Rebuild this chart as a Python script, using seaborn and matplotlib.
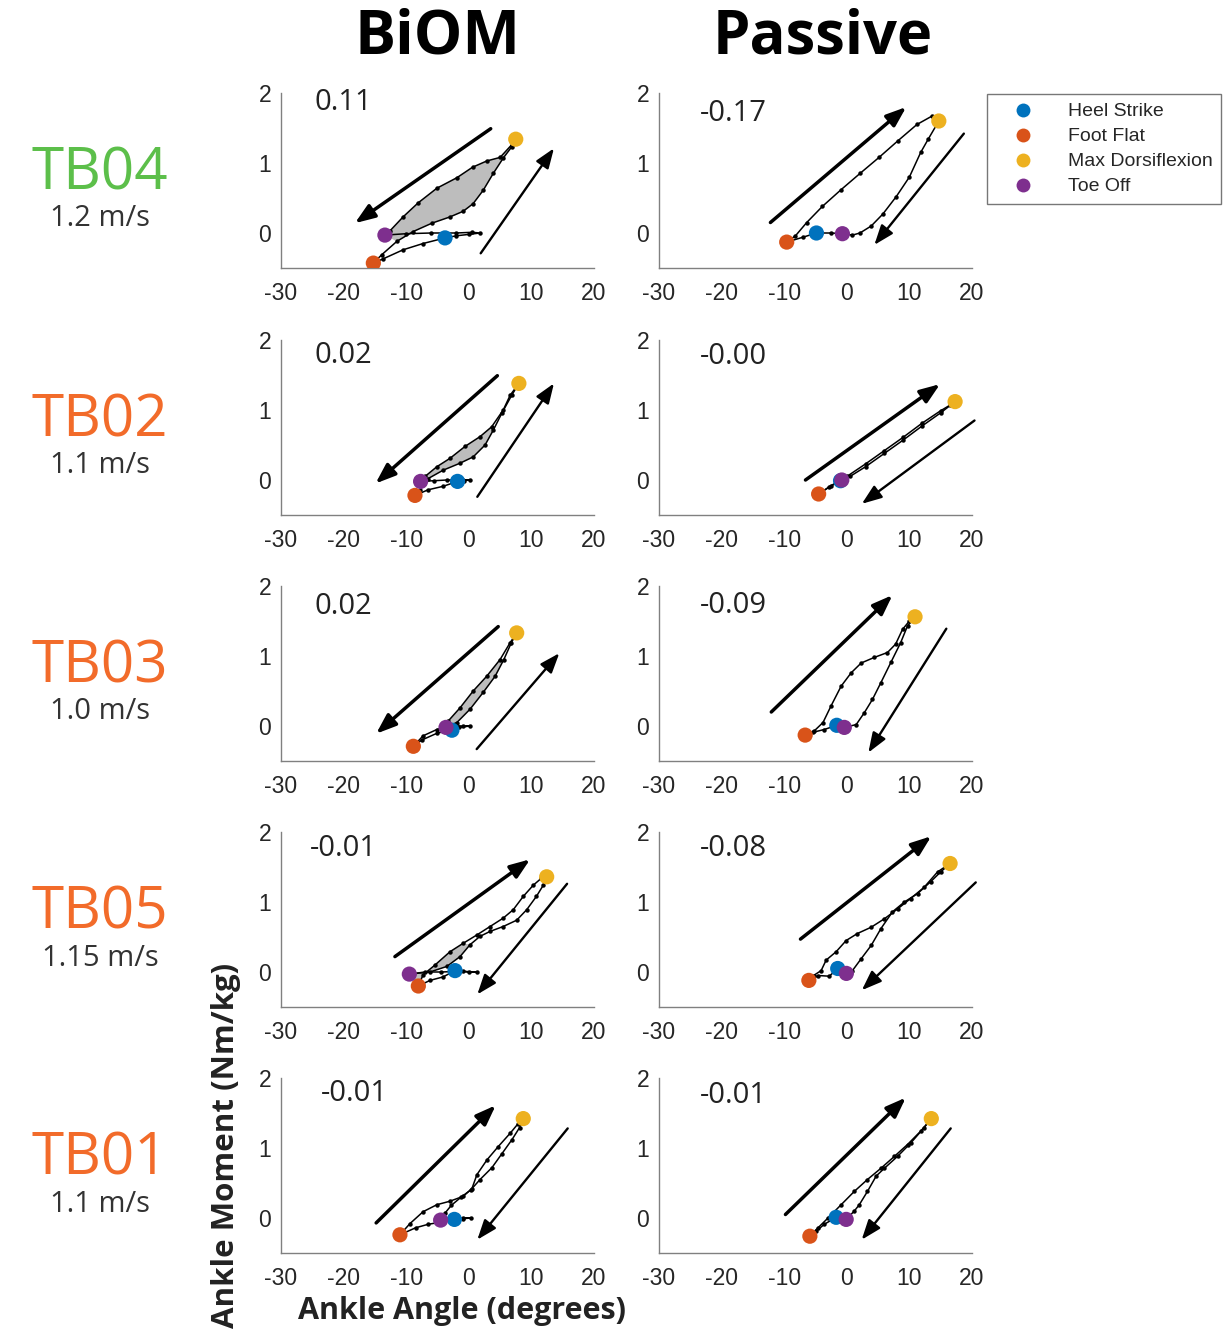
import matplotlib
matplotlib.use("Agg")
import matplotlib.pyplot as plt
from matplotlib.lines import Line2D
import seaborn as sns

# ---- data ----
SUBJECTS = ["TB04", "TB02", "TB03", "TB05", "TB01"]
SPEEDS = ["1.2 m/s", "1.1 m/s", "1.0 m/s", "1.15 m/s", "1.1 m/s"]
SUBJECT_COLORS = ["#5cbf4a", "#f26b2a", "#f26b2a", "#f26b2a", "#f26b2a"]
CONDITIONS = ["BiOM", "Passive"]
X_TICKS = [-30, -20, -10, 0, 10, 20]
Y_TICKS = [0, 1, 2]

EVENTS = ["Heel Strike", "Foot Flat", "Max Dorsiflexion", "Toe Off"]
EVENT_COLORS = {"Heel Strike": "#0072BD", "Foot Flat": "#D95319",
                "Max Dorsiflexion": "#EDB120", "Toe Off": "#7E2F8E"}

BIOM_WORK = ["0.11", "0.02", "0.02", "-0.01", "-0.01"]
PASSIVE_WORK = ["-0.17", "-0.00", "-0.09", "-0.08", "-0.01"]
BIOM_TEXT_POS = [(-24.6, 1.86), (-24.6, 1.78), (-24.6, 1.70), (-25.4, 1.77), (-23.6, 1.78)]
PASSIVE_TEXT_POS = [(-23.5, 1.70), (-23.5, 1.77), (-23.5, 1.72), (-23.5, 1.76), (-23.5, 1.75)]

# gait events (angle deg, moment Nm/kg)
BIOM_HEEL_STRIKE = [(-3.8, -0.07), (-1.8, -0.02), (-2.7, -0.06), (-2.2, 0.02), (-2.3, -0.02)]
BIOM_FOOT_FLAT = [(-15.25, -0.43), (-8.6, -0.22), (-8.86, -0.29), (-8.06, -0.2), (-11.0, -0.24)]
BIOM_MAX_DF = [(7.5, 1.34), (8.0, 1.38), (7.65, 1.33), (12.44, 1.36), (8.7, 1.42)]
BIOM_TOE_OFF = [(-13.4, -0.03), (-7.7, -0.02), (-3.64, -0.02), (-9.5, -0.03), (-4.5, -0.03)]

PASSIVE_HEEL_STRIKE = [(-4.85, 0.0), (-1.0, -0.01), (-1.6, 0.01), (-1.45, 0.05), (-1.7, 0.01)]
PASSIVE_FOOT_FLAT = [(-9.6, -0.13), (-4.5, -0.2), (-6.65, -0.13), (-6.06, -0.12), (-5.9, -0.26)]
PASSIVE_MAX_DF = [(14.7, 1.6), (17.3, 1.12), (10.9, 1.56), (16.5, 1.55), (13.5, 1.42)]
PASSIVE_TOE_OFF = [(-0.7, -0.01), (-0.8, 0.0), (-0.4, -0.02), (-0.07, -0.02), (-0.1, -0.02)]

# foot flat -> max dorsiflexion
BIOM_LOAD = [
    [(-13.9, -0.31), (-11.5, -0.12), (-8.9, 0.02), (-5.9, 0.14), (-3.0, 0.23), (-0.9, 0.31),
     (0.7, 0.42), (2.3, 0.61), (3.9, 0.85), (5.5, 1.07), (6.85, 1.23)],
    [(-7.8, -0.14), (-6.5, 0.02), (-4.1, 0.14), (-1.4, 0.24), (0.7, 0.33), (2.6, 0.50),
     (3.9, 0.71), (5.25, 0.95), (6.85, 1.21)],
    [(-7.3, -0.14), (-5.1, -0.05), (-3.0, 0.01), (-1.9, 0.05), (0.2, 0.24), (2.3, 0.48),
     (4.2, 0.71), (5.6, 0.95), (6.8, 1.19)],
    [(-7.3, -0.04), (-5.4, 0.1), (-3.0, 0.29), (-0.9, 0.41), (1.3, 0.53), (3.4, 0.65),
     (5.5, 0.77), (7.1, 0.89), (8.7, 1.08), (10.3, 1.24), (11.6, 1.34)],
    [(-9.4, -0.08), (-7.3, 0.09), (-5.1, 0.19), (-3.0, 0.24), (-0.9, 0.31), (0.5, 0.42),
     (1.3, 0.62), (2.9, 0.83), (4.7, 1.02), (6.6, 1.21), (7.9, 1.35)],
]
# max dorsiflexion -> toe off
BIOM_UNLOAD = [
    [(6.85, 1.26), (5.0, 1.08), (2.9, 1.03), (0.6, 0.94), (-1.9, 0.79), (-5.1, 0.64),
     (-8.1, 0.43), (-10.5, 0.23), (-12.6, 0.03)],
    [(6.6, 1.21), (5.5, 1.0), (3.65, 0.76), (1.8, 0.62), (-0.6, 0.48), (-3.0, 0.31),
     (-5.1, 0.19), (-7.0, 0.05)],
    [(6.6, 1.19), (5.0, 0.95), (2.85, 0.71), (0.7, 0.50), (-1.4, 0.26), (-3.3, 0.07)],
    [(11.9, 1.24), (10.8, 1.08), (9.25, 0.89), (7.65, 0.74), (5.5, 0.65), (3.4, 0.58),
     (1.8, 0.51), (0.2, 0.39), (-1.4, 0.22), (-3.5, 0.08), (-6.2, 0.0)],
    [(8.1, 1.29), (6.9, 1.12), (5.3, 0.92), (3.7, 0.72), (1.8, 0.55), (0.3, 0.40),
     (-1.2, 0.30), (-2.8, 0.18), (-3.8, 0.07)],
]
# toe off -> heel strike (swing)
BIOM_SWING = [
    [(-10.0, -0.01), (-6.0, 0.0), (-2.0, 0.0), (0.5, 0.01), (1.8, 0.0), (0.0, -0.02), (-2.0, -0.04)],
    [(-5.5, -0.01), (-3.5, 0.0), (-1.0, 0.0), (0.2, 0.0), (-0.8, -0.01)],
    [(-2.5, 0.0), (-1.0, 0.0), (0.2, 0.0), (-1.5, -0.02)],
    [(-7.0, 0.0), (-4.5, 0.0), (-1.0, 0.01), (1.3, 0.0), (0.0, 0.0)],
    [(-3.4, -0.01), (-1.0, 0.0), (0.4, 0.0), (-1.0, -0.01)],
]
# heel strike -> foot flat
BIOM_HEEL = [
    [(-7.3, -0.15), (-10.5, -0.24), (-13.7, -0.37)],
    [(-4.1, -0.09), (-6.5, -0.14)],
    [(-5.0, -0.1), (-7.5, -0.2)],
    [(-4.1, -0.07), (-6.2, -0.12)],
    [(-4.5, -0.06), (-6.5, -0.09), (-8.5, -0.14)],
]
BIOM_FILL_MAX_ANGLE = [20.0, 4.0, 6.0, 0.5, None]

PASSIVE_LOAD = [
    [(-8.2, -0.04), (-6.4, 0.15), (-3.9, 0.38), (-0.9, 0.62), (2.1, 0.85), (5.15, 1.08),
     (8.2, 1.32), (11.2, 1.55), (13.6, 1.67)],
    [(-2.5, -0.08), (0.0, 0.05), (3.0, 0.23), (6.0, 0.42), (9.0, 0.61), (12.0, 0.81),
     (15.0, 0.99), (16.5, 1.07)],
    [(-5.2, -0.07), (-3.8, 0.05), (-2.5, 0.29), (-0.9, 0.57), (0.7, 0.76), (2.3, 0.90),
     (4.4, 0.98), (6.5, 1.05), (7.8, 1.17), (8.9, 1.38), (10.0, 1.50)],
    [(-5.3, -0.05), (-4.1, 0.02), (-3.3, 0.17), (-1.7, 0.29), (-0.1, 0.45), (1.7, 0.55),
     (3.9, 0.64), (6.0, 0.76), (8.1, 0.90), (10.2, 1.05), (12.35, 1.21), (14.5, 1.43)],
    [(-4.6, -0.14), (-3.0, 0.0), (-0.9, 0.19), (1.2, 0.38), (3.3, 0.55), (5.45, 0.71),
     (7.6, 0.88), (9.7, 1.05), (11.8, 1.24)],
]
PASSIVE_UNLOAD = [
    [(13.0, 1.34), (11.8, 1.15), (10.0, 0.80), (7.9, 0.52), (5.75, 0.27), (3.9, 0.10),
     (2.1, 0.0), (0.9, -0.03)],
    [(15.0, 0.96), (12.0, 0.77), (9.0, 0.57), (6.0, 0.38), (3.0, 0.19), (0.5, 0.05)],
    [(9.7, 1.43), (8.6, 1.19), (7.05, 0.91), (5.45, 0.62), (4.1, 0.38), (2.8, 0.19), (1.5, 0.02)],
    [(15.0, 1.43), (13.4, 1.29), (11.3, 1.12), (9.2, 1.0), (7.3, 0.86), (5.45, 0.62),
     (3.9, 0.38), (2.3, 0.19), (0.9, 0.02)],
    [(12.35, 1.29), (10.2, 1.07), (8.1, 0.88), (6.0, 0.71), (4.7, 0.60), (3.3, 0.38),
     (2.0, 0.19), (1.2, 0.1)],
]
PASSIVE_SWING = [[(-2.5, 0.0)], [], [(-1.0, 0.0)], [(-0.8, 0.02)], [(-0.9, 0.0)]]
PASSIVE_HEEL = [
    [(-7.0, -0.06)],
    [(-2.8, -0.1)],
    [(-3.6, -0.05), (-5.4, -0.09)],
    [(-2.8, -0.06), (-4.6, -0.05)],
    [(-3.6, -0.09), (-4.9, -0.19)],
]

# direction arrows: (start, end); first one thick, second one thin
BIOM_ARROWS = [
    [((3.5, 1.49), (-18.2, 0.14)), ((1.9, -0.29), (13.6, 1.21))],
    [((4.56, 1.49), (-14.9, -0.05)), ((1.36, -0.24), (13.6, 1.38))],
    [((4.7, 1.42), (-14.8, -0.11)), ((1.26, -0.33), (14.46, 1.04))],
    [((-11.8, 0.22), (9.8, 1.61)), ((15.7, 1.26), (1.36, -0.32))],
    [((-14.8, -0.07), (4.3, 1.61)), ((15.8, 1.28), (1.36, -0.31))],
]
PASSIVE_ARROWS = [
    [((-12.2, 0.15), (9.5, 1.8)), ((18.7, 1.42), (4.4, -0.17))],
    [((-6.6, 0.0), (14.9, 1.37)), ((20.4, 0.85), (2.4, -0.34))],
    [((-12.06, 0.2), (7.3, 1.87)), ((15.9, 1.39), (3.44, -0.38))],
    [((-7.4, 0.47), (13.5, 1.94)), ((20.6, 1.28), (2.4, -0.26))],
    [((-9.8, 0.05), (9.43, 1.72)), ((16.6, 1.28), (2.38, -0.31))],
]

DATA = {
    "BiOM": dict(hs=BIOM_HEEL_STRIKE, ff=BIOM_FOOT_FLAT, md=BIOM_MAX_DF, to=BIOM_TOE_OFF,
                 load=BIOM_LOAD, unload=BIOM_UNLOAD, swing=BIOM_SWING, heel=BIOM_HEEL,
                 arrows=BIOM_ARROWS, work=BIOM_WORK, text=BIOM_TEXT_POS),
    "Passive": dict(hs=PASSIVE_HEEL_STRIKE, ff=PASSIVE_FOOT_FLAT, md=PASSIVE_MAX_DF,
                    to=PASSIVE_TOE_OFF, load=PASSIVE_LOAD, unload=PASSIVE_UNLOAD,
                    swing=PASSIVE_SWING, heel=PASSIVE_HEEL, arrows=PASSIVE_ARROWS,
                    work=PASSIVE_WORK, text=PASSIVE_TEXT_POS),
}

# ---- layout (pixels) ----
W, H = 1225, 1331
ROW_TOP = [93, 340, 586, 832, 1078]
COL_LEFT = {"BiOM": 281, "Passive": 659}
AX_W, AX_H = 313, 175

sns.set_style("white")
plt.rcParams["font.family"] = ["Liberation Sans", "DejaVu Sans"]
plt.rcParams["axes.unicode_minus"] = False
TITLE_FONT = ["Open Sans", "DejaVu Sans"]

fig = plt.figure(figsize=(W / 100, H / 100), dpi=100)


def draw_path(ax, pts, lw=1.1):
    xs = [p[0] for p in pts]
    ys = [p[1] for p in pts]
    sns.lineplot(x=xs, y=ys, sort=False, estimator=None, color="black", lw=lw,
                 marker="o", markersize=3.2, markeredgewidth=0, ax=ax, zorder=3)


for i, subj in enumerate(SUBJECTS):
    top = ROW_TOP[i]
    for cond in CONDITIONS:
        d = DATA[cond]
        ax = fig.add_axes([COL_LEFT[cond] / W, 1 - (top + AX_H) / H, AX_W / W, AX_H / H])
        hs, ff, md, to = d["hs"][i], d["ff"][i], d["md"][i], d["to"][i]
        load = [ff] + d["load"][i] + [md]
        unload = [md] + d["unload"][i] + [to]
        swing = [to] + d["swing"][i] + [hs]
        heel = [hs] + d["heel"][i] + [ff]

        # shaded net-work region for the BiOM loops
        if cond == "BiOM" and BIOM_FILL_MAX_ANGLE[i] is not None:
            cut = BIOM_FILL_MAX_ANGLE[i]
            poly = [p for p in load if to[0] <= p[0] <= cut] + \
                   [p for p in unload if p[0] <= cut]
            ax.fill([p[0] for p in poly], [p[1] for p in poly], color="#bdbdbd",
                    lw=0, zorder=1)

        for seg in (heel, load, unload, swing):
            draw_path(ax, seg)

        sns.scatterplot(x=[hs[0], ff[0], md[0], to[0]], y=[hs[1], ff[1], md[1], to[1]],
                        hue=EVENTS, palette=EVENT_COLORS, s=120, linewidth=0,
                        legend=False, ax=ax, zorder=5)

        for k, (start, end) in enumerate(d["arrows"][i]):
            ax.annotate("", xy=end, xytext=start,
                        arrowprops=dict(arrowstyle="-|>,head_length=0.75,head_width=0.28",
                                        lw=2.5 if k == 0 else 1.7, color="black",
                                        shrinkA=0, shrinkB=0, mutation_scale=16))

        tx, ty = d["text"][i]
        ax.text(tx, ty, d["work"][i], fontsize=21, family=TITLE_FONT, color="#222222",
                ha="left", va="center")

        ax.set_xlim(-30, 20)
        ax.set_ylim(-0.5, 2)
        ax.set_xticks(X_TICKS)
        ax.set_yticks(Y_TICKS)
        ax.set_xlabel("")
        ax.set_ylabel("")
        sns.despine(ax=ax)
        for sp in ("left", "bottom"):
            ax.spines[sp].set_color("#808080")
            ax.spines[sp].set_linewidth(1.0)
        ax.tick_params(axis="both", direction="in", length=4, width=0.8, color="#808080",
                       labelsize=16.5, labelcolor="#262626")
        ax.tick_params(axis="x", pad=10)
        ax.tick_params(axis="y", pad=7)
        ax.set_facecolor("none")

    # subject label and walking speed
    fig.text(100 / W, 1 - (top + 81) / H, subj, color=SUBJECT_COLORS[i], fontsize=42,
             family=TITLE_FONT, ha="center", va="center")
    fig.text(100 / W, 1 - (top + 126) / H, SPEEDS[i], color="#333333", fontsize=21,
             family=TITLE_FONT, ha="center", va="center")

# column titles
fig.text(437 / W, 1 - 38 / H, "BiOM", fontsize=44, fontweight="bold", family=TITLE_FONT,
         ha="center", va="center", color="black")
fig.text(823 / W, 1 - 38 / H, "Passive", fontsize=43, fontweight="bold", family=TITLE_FONT,
         ha="center", va="center", color="black")

# axis labels
fig.text(462 / W, 1 - 1311 / H, "Ankle Angle (degrees)", fontsize=22, fontweight="bold",
         family=TITLE_FONT, ha="center", va="center", color="#222222")
fig.text(226 / W, 1 - 1145 / H, "Ankle Moment (Nm/kg)", fontsize=22.5, fontweight="bold",
         family=TITLE_FONT, ha="center", va="center", rotation=90, color="#222222")

# legend
handles = [Line2D([], [], ls="", marker="o", markersize=10, markeredgewidth=0,
                  color=EVENT_COLORS[e]) for e in EVENTS]
fig.legend(handles, EVENTS, loc="upper left", bbox_to_anchor=(987 / W, 1 - 94 / H),
           frameon=True, fancybox=False, edgecolor="#555555", fontsize=14,
           handletextpad=0.9, labelspacing=0.38, borderpad=0.45, handlelength=2.8,
           borderaxespad=0)

fig.savefig("out.png", dpi=100, facecolor="white")
plt.close(fig)
